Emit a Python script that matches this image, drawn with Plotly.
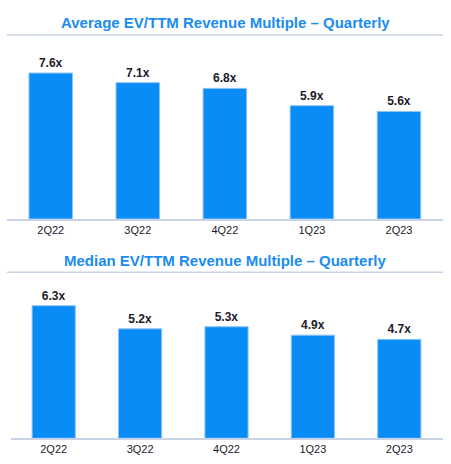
import plotly.graph_objects as go

# Quarterly EV/TTM revenue multiples
quarters = ["2Q22", "3Q22", "4Q22", "1Q23", "2Q23"]
average_multiple = [7.6, 7.1, 6.8, 5.9, 5.6]
median_multiple = [6.3, 5.2, 5.3, 4.9, 4.7]

titles = ["Average EV/TTM Revenue Multiple – Quarterly",
          "Median EV/TTM Revenue Multiple – Quarterly"]

BAR = "#0a8cf7"
RULE = "#c9d3e6"
TITLE = "#1a8cf0"
FONT = "Liberation Sans, Arial, sans-serif"

W, H = 451, 464


def fy(px):
    # pixel row from the top -> paper fraction
    return (H - px) / H


fig = go.Figure()

fig.add_trace(go.Bar(x=quarters, y=average_multiple,
                     marker=dict(color=BAR, line=dict(color="#8ec3f5", width=1)),
                     text=[f"{v:.1f}x" for v in average_multiple],
                     textposition="outside", cliponaxis=False,
                     textfont=dict(size=12, color="#1b1b2a", family=FONT, weight="bold"),
                     xaxis="x", yaxis="y", hoverinfo="skip"))

fig.add_trace(go.Bar(x=quarters, y=median_multiple,
                     marker=dict(color=BAR, line=dict(color="#8ec3f5", width=1)),
                     text=[f"{v:.1f}x" for v in median_multiple],
                     textposition="outside", cliponaxis=False,
                     textfont=dict(size=12, color="#1b1b2a", family=FONT, weight="bold"),
                     xaxis="x2", yaxis="y2", hoverinfo="skip"))

xcommon = dict(showgrid=False, showline=True, linecolor=RULE, linewidth=1.5,
               ticks="", tickfont=dict(size=11, color="#1b1b2a", family=FONT),
               fixedrange=True)
ycommon = dict(showgrid=False, showticklabels=False, zeroline=False,
               showline=False, fixedrange=True)

fig.update_layout(
    width=W, height=H,
    margin=dict(l=0, r=0, t=0, b=0),
    paper_bgcolor="white", plot_bgcolor="white",
    showlegend=False, bargap=0.5,
    font=dict(family=FONT),
    xaxis=dict(domain=[7.2 / W, 442.5 / W], anchor="y", **xcommon),
    yaxis=dict(domain=[fy(219), fy(35)], range=[0, 9.58], **ycommon),
    xaxis2=dict(domain=[10.5 / W, 442.5 / W], anchor="y2", **xcommon),
    yaxis2=dict(domain=[fy(438.3), fy(272.3)], range=[0, 7.886], **ycommon),
)

# section titles and the thin rules under them
for title, ty, ry in [(titles[0], 23, 35), (titles[1], 260, 272.3)]:
    fig.add_annotation(text=f"<b>{title}</b>", x=225 / W, y=fy(ty),
                       xref="paper", yref="paper", showarrow=False,
                       xanchor="center", yanchor="middle",
                       font=dict(size=15, color=TITLE, family=FONT))
    fig.add_shape(type="line", xref="paper", yref="paper",
                  x0=7 / W, x1=443 / W, y0=fy(ry), y1=fy(ry),
                  line=dict(color=RULE, width=1.5))

# drop the page's default body margin so the figure sits at the window's corner
fig.write_html("out.html", config={"displayModeBar": False},
               post_script="document.body.style.margin='0';")
